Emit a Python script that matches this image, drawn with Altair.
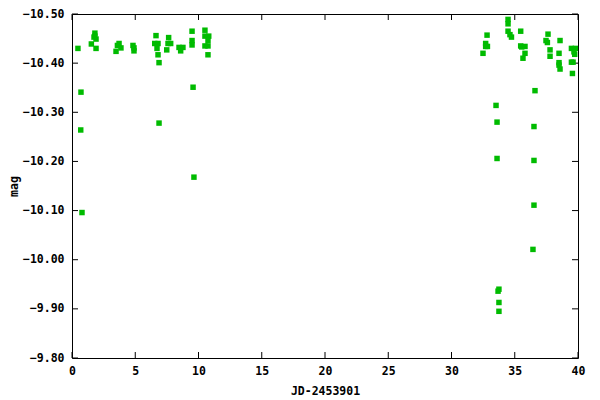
import altair as alt
import pandas as pd

jd = [0.47, 0.71, 0.69, 0.79, 1.53, 1.81, 1.81, 1.74, 1.90, 1.90,
      3.48, 3.59, 3.72, 3.87, 4.82, 4.90, 4.90,
      6.64, 6.54, 6.80, 6.72, 6.80, 6.88, 6.88,
      7.64, 7.59, 7.80, 7.49, 8.46, 8.77, 8.59,
      9.49, 9.49, 9.49, 9.57, 9.64,
      10.51, 10.51, 10.81, 10.75, 10.51, 10.75, 10.75,
      32.49, 32.70, 32.70, 32.84, 32.81,
      33.52, 33.60, 33.60, 33.75, 33.68, 33.75, 33.75,
      34.47, 34.47, 34.47, 34.62, 34.74,
      35.47, 35.47, 35.55, 35.81, 35.81, 35.65,
      36.60, 36.52, 36.52, 36.52, 36.44,
      37.63, 37.47, 37.58, 37.79, 37.79,
      38.58, 38.50, 38.50, 38.50, 38.58,
      39.48, 39.79, 39.74, 39.48, 39.61, 39.56, 39.68]
mag = [-10.430, -10.341, -10.264, -10.096, -10.439, -10.461, -10.455, -10.453, -10.449, -10.430,
       -10.424, -10.436, -10.440, -10.431, -10.436, -10.425, -10.431,
       -10.456, -10.440, -10.440, -10.430, -10.417, -10.401, -10.278,
       -10.452, -10.440, -10.440, -10.427, -10.432, -10.432, -10.425,
       -10.465, -10.446, -10.437, -10.351, -10.168,
       -10.467, -10.455, -10.455, -10.446, -10.435, -10.435, -10.417,
       -10.420, -10.440, -10.434, -10.434, -10.457,
       -10.314, -10.280, -10.206, -9.940, -9.936, -9.913, -9.895,
       -10.489, -10.480, -10.465, -10.458, -10.453,
       -10.465, -10.435, -10.433, -10.434, -10.420, -10.410,
       -10.344, -10.271, -10.202, -10.111, -10.021,
       -10.459, -10.446, -10.442, -10.427, -10.414,
       -10.446, -10.420, -10.401, -10.396, -10.388,
       -10.430, -10.430, -10.418, -10.402, -10.402, -10.379, -10.423]

x_ticks = [0, 5, 10, 15, 20, 25, 30, 35, 40]
y_ticks = [-10.5, -10.4, -10.3, -10.2, -10.1, -10.0, -9.9, -9.8]

W, H = 506, 344
FONT = "DejaVu Sans Mono"

df = pd.DataFrame({"x": jd, "y": mag})
xt = pd.DataFrame({"x": x_ticks})
yt = pd.DataFrame({"y": y_ticks})

xscale = alt.Scale(domain=[0, 40], nice=False, zero=False)
yscale = alt.Scale(domain=[-10.5, -9.8], nice=False, zero=False, reverse=True)

xaxis = alt.Axis(values=x_ticks, format="d", ticks=False, tickSize=0, domain=False,
                 grid=False, labelPadding=7, labelFlush=False,
                 title="JD-2453901", titleY=33, titleBaseline="middle")
yaxis = alt.Axis(values=y_ticks, format=".2f", ticks=False, tickSize=0, domain=False,
                 grid=False, labelPadding=8, labelFlush=False,
                 title="mag", titleX=-58, titleY=H / 2, titleAngle=270,
                 titleAlign="center", titleBaseline="middle")

X = alt.X("x:Q", scale=xscale, axis=xaxis)
Y = alt.Y("y:Q", scale=yscale, axis=yaxis)

points = alt.Chart(df).mark_square(size=30, color="#00bb00", opacity=1).encode(x=X, y=Y)

tick_style = dict(color="black", strokeWidth=1)
bottom = alt.Chart(xt).mark_rule(**tick_style).encode(x=X, y=alt.value(H), y2=alt.value(H - 6))
top = alt.Chart(xt).mark_rule(**tick_style).encode(x=X, y=alt.value(0), y2=alt.value(6))
left = alt.Chart(yt).mark_rule(**tick_style).encode(y=Y, x=alt.value(0), x2=alt.value(6))
right = alt.Chart(yt).mark_rule(**tick_style).encode(y=Y, x=alt.value(W), x2=alt.value(W - 6))

chart = alt.layer(bottom, top, left, right, points).properties(
    width=W, height=H,
    autosize=alt.AutoSizeParams(type="none"),
    padding={"left": 64, "top": 6, "right": 12, "bottom": 40},
).configure_view(
    stroke="black", strokeWidth=1
).configure_axis(
    labelFont=FONT, labelFontSize=11.5, labelFontWeight="bold", labelColor="black",
    titleFont=FONT, titleFontSize=11.5, titleFontWeight="bold", titleColor="black",
)

chart.save("out.html", embed_options={"renderer": "svg", "actions": False})
